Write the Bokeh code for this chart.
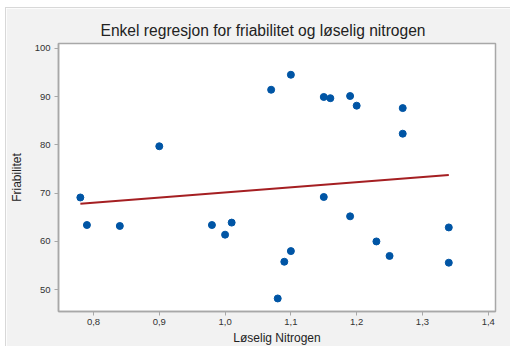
from bokeh.plotting import figure
from bokeh.models import FixedTicker, CustomJSTickFormatter, Range1d
from bokeh.embed import file_html
from bokeh.resources import INLINE
import numpy as np

# Data
nitrogen = [1.07, 1.10, 1.15, 1.16, 1.19, 1.20, 1.27, 1.27, 0.90, 0.78, 1.15, 0.79,
            0.84, 0.98, 1.01, 1.19, 1.34, 1.00, 1.23, 1.09, 1.10, 1.08, 1.25, 1.34]
friabilitet = [91.4, 94.5, 89.9, 89.65, 90.1, 88.1, 87.6, 82.3, 79.7, 69.1, 69.2, 63.4,
               63.2, 63.4, 63.9, 65.2, 62.9, 61.4, 60.0, 55.8, 58.0, 48.2, 57.0, 55.6]
x_ticks = [0.8, 0.9, 1.0, 1.1, 1.2, 1.3, 1.4]
y_ticks = [50, 60, 70, 80, 90, 100]

title_text = "Enkel regresjon for friabilitet og løselig nitrogen"
x_label = "Løselig Nitrogen"
y_label = "Friabilitet"

# Least-squares fit
slope, intercept = np.polyfit(nitrogen, friabilitet, 1)
fit_x = [min(nitrogen), max(nitrogen)]
fit_y = [intercept + slope * v for v in fit_x]

p = figure(width=503, height=338, output_backend="svg", toolbar_location=None,
           x_range=Range1d(0.7468, 1.411), y_range=Range1d(45.5, 100.97),
           min_border_left=50, min_border_top=35, min_border_right=16, min_border_bottom=35,
           frame_width=437, frame_height=268)
p.margin = (7, 0, 0, 5)
p.styles = {"border-left": "1px solid #D8D8D8", "border-top": "1px solid #D8D8D8"}

p.background_fill_color = "white"
p.border_fill_color = "#F2F2F2"
p.outline_line_color = "#A8A8A8"
p.outline_line_width = 1.5
p.xgrid.visible = False
p.ygrid.visible = False

p.title.text = title_text
p.title.align = "left"
p.title.offset = 42
p.title.text_font = "Liberation Sans"
p.title.text_font_size = "15.6px"
p.title.text_font_style = "normal"
p.title.text_color = "#222222"

for ax in (p.xaxis[0], p.yaxis[0]):
    ax.axis_line_color = "#A8A8A8"
    ax.axis_line_width = 1.5
    ax.major_tick_line_color = "#A8A8A8"
    ax.major_tick_out = 4
    ax.major_tick_in = 0
    ax.minor_tick_line_color = None
    ax.major_label_text_font = "Liberation Sans"
    ax.major_label_text_font_size = "9.5px"
    ax.major_label_text_color = "#333333"
    ax.axis_label_text_font = "Liberation Sans"
    ax.axis_label_text_font_size = "12px"
    ax.axis_label_text_font_style = "normal"
    ax.axis_label_text_color = "#222222"

p.xaxis.ticker = FixedTicker(ticks=x_ticks)
p.yaxis.ticker = FixedTicker(ticks=y_ticks)
p.xaxis.formatter = CustomJSTickFormatter(code="return tick.toFixed(1).replace('.', ',');")
p.xaxis.axis_label = x_label
p.yaxis.axis_label = y_label
p.xaxis.major_label_standoff = 3
p.yaxis.major_label_standoff = 4
p.xaxis.axis_label_standoff = 3
p.yaxis.axis_label_standoff = 8

p.line(fit_x, fit_y, line_color="#A51F22", line_width=2)
p.scatter(nitrogen, friabilitet, size=7, fill_color="#0055A5", line_color="#0055A5")

open("out.html", "w").write(file_html(p, INLINE))
